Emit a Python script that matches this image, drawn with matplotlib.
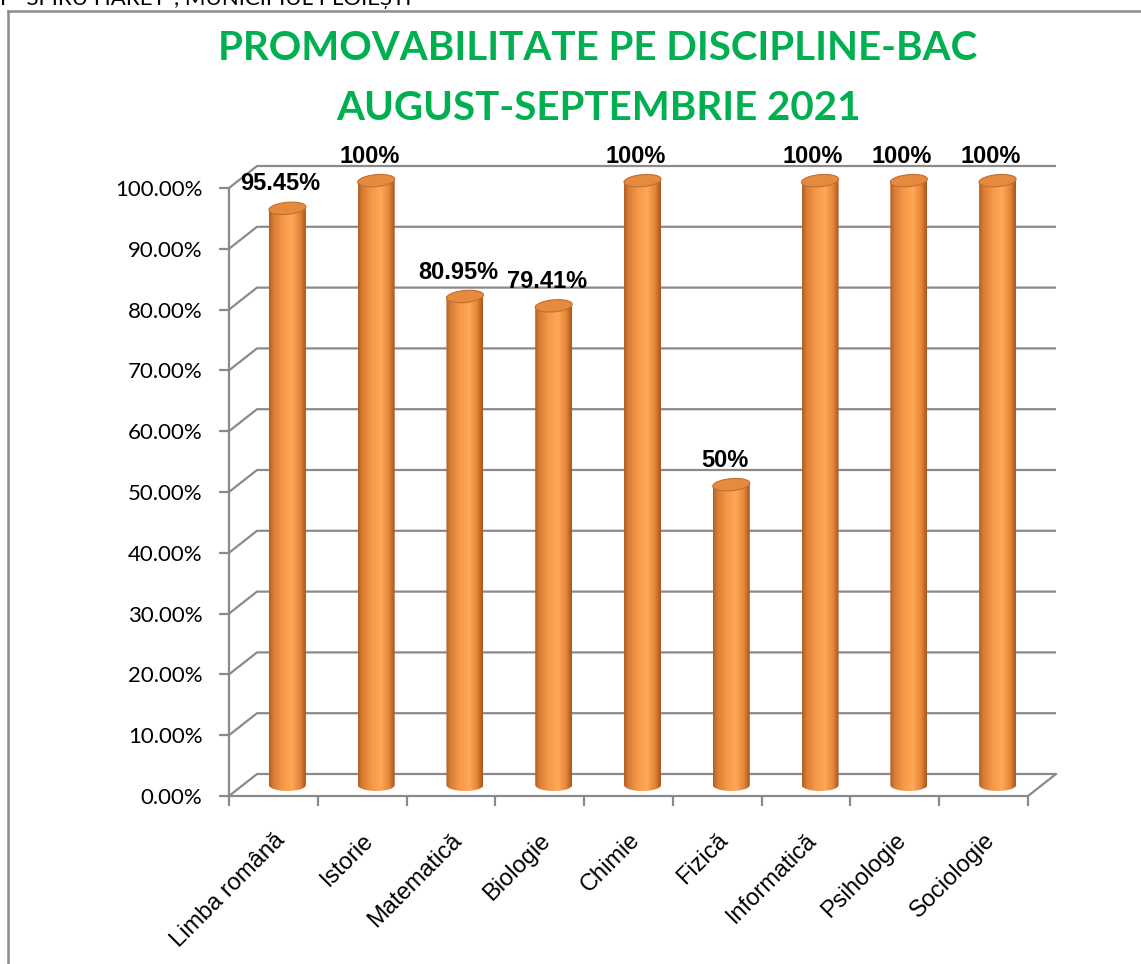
import matplotlib
matplotlib.use("Agg")
import matplotlib.pyplot as plt
import numpy as np
from matplotlib.patches import Polygon


categories = ["Limba română", "Istorie", "Matematică", "Biologie", "Chimie",
              "Fizică", "Informatică", "Psihologie", "Sociologie"]
values = [95.45, 100, 80.95, 79.41, 100, 50, 100, 100, 100]
value_labels = ["95.45%", "100%", "80.95%", "79.41%", "100%", "50%",
                "100%", "100%", "100%"]
yticks = [0, 10, 20, 30, 40, 50, 60, 70, 80, 90, 100]

W, H = 1141, 964
X0_PX, X1_PX = 229, 1028       # front floor edge
Y0_PX, Y100_PX = 796, 188      # 0% and 100% on the front axis
DX_PX, DY_PX = 28, 22          # depth of the 3D box

cat_px = (X1_PX - X0_PX) / len(categories)
pct_px = (Y0_PX - Y100_PX) / 100.0
dxd = DX_PX / cat_px
dyd = DY_PX / pct_px

GRID = "#8a8a8a"
GREEN = "#00b050"


def px(x, y):
    return x / W, 1 - y / H


def cylinder(ax, xc, base, top, w, eh, z=3):
    a, b = w / 2, eh / 2
    t = np.linspace(np.pi, 2 * np.pi, 40)
    bottom = np.column_stack([xc + a * np.cos(t), base + b * np.sin(t)])
    body = np.vstack([[xc - a, top], bottom, [xc + a, top]])
    clip = Polygon(body, closed=True, facecolor="none", edgecolor="none")
    ax.add_patch(clip)
    stops = [0.0, 0.12, 0.35, 0.62, 0.85, 1.0]
    cols = np.array([[0.70, 0.37, 0.14], [0.84, 0.49, 0.21], [0.96, 0.59, 0.28],
                     [1.00, 0.66, 0.34], [0.89, 0.52, 0.22], [0.66, 0.33, 0.10]])
    s = np.linspace(0, 1, 128)
    grad = np.stack([np.interp(s, stops, cols[:, k]) for k in range(3)], axis=-1)[None, :, :]
    im = ax.imshow(grad, extent=(xc - a, xc + a, base - b, top), aspect="auto",
                   zorder=z, interpolation="bilinear")
    im.set_clip_path(clip)
    tt = np.linspace(0, 2 * np.pi, 80)
    shear = 0.25
    cap = np.column_stack([xc + a * np.cos(tt),
                           top + b * np.sin(tt) + shear * np.cos(tt)])
    ax.add_patch(Polygon(cap, closed=True, facecolor="#e58a3e",
                         edgecolor="#c66d2b", lw=0.8, zorder=z + 0.1))


fig = plt.figure(figsize=(W / 100, H / 100), dpi=100)

# outer frame (only top and left are inside the picture)
fig.add_artist(plt.Line2D([8 / W, 8 / W], [0, 1 - 11 / H], color="#8c8c8c", lw=1.8))
fig.add_artist(plt.Line2D([8 / W, 1], [1 - 11 / H, 1 - 11 / H], color="#8c8c8c", lw=1.8))

# header line of the page, cut off at the top edge
fig.text(0, 1 - 5 / H, 'F "SPIRU HARET", MUNICIPIUL PLOIEȘTI', fontsize=16,
         family="Lato", va="baseline", ha="left")

top_px = 140
ax = fig.add_axes([X0_PX / W, 1 - Y0_PX / H, 830 / W, (Y0_PX - top_px) / H])
ax.set_xlim(-0.5, -0.5 + 830 / cat_px)
ax.set_ylim(0, (Y0_PX - top_px) / pct_px)
ax.patch.set_visible(False)

for sp in ["top", "right"]:
    ax.spines[sp].set_visible(False)
for sp in ["left", "bottom"]:
    ax.spines[sp].set_color(GRID)
    ax.spines[sp].set_linewidth(1.6)
ax.spines["left"].set_bounds(0, 100)
ax.spines["bottom"].set_bounds(-0.5, len(categories) - 0.5)

ax.set_yticks(yticks, ["%.2f%%" % v for v in yticks])
ax.tick_params(axis="y", length=7, width=1.6, color=GRID, pad=12, labelsize=16)
for lbl in ax.get_yticklabels():
    lbl.set_family("Lato")

ax.set_xticks(np.arange(len(categories)), categories, rotation=45, ha="right",
              rotation_mode="anchor", fontsize=17, family="Liberation Sans")
ax.set_xticks(np.arange(-0.5, len(categories)), minor=True)
ax.tick_params(axis="x", which="major", length=0, pad=24)
ax.tick_params(axis="x", which="minor", length=7, width=1.6, color=GRID)

# back wall gridlines with side-wall diagonals
xl, xr = -0.5, len(categories) - 0.5
for v in yticks:
    ax.plot([xl, xl + dxd, xr + dxd], [v, v + dyd, v + dyd], color=GRID,
            lw=1.6, zorder=1, clip_on=False, solid_capstyle="butt")
ax.plot([xr, xr + dxd], [0, dyd], color=GRID, lw=1.6, zorder=1, clip_on=False)

bar_w = 37 / cat_px
ell_h = 12 / pct_px
for i, (v, lab) in enumerate(zip(values, value_labels)):
    xc = i + dxd / 2
    cylinder(ax, xc, dyd / 2, v + dyd / 2 - 0.6, bar_w, ell_h)
    ax.text(i + 0.08, v + dyd / 2 + 3.4, lab, ha="center", va="center",
            fontsize=17, fontweight="bold", family="Liberation Sans", zorder=6)

fig.text(*px(598, 60), "PROMOVABILITATE PE DISCIPLINE-BAC", color=GREEN,
         fontsize=29, fontweight="bold", family="Lato", ha="center", va="baseline")
fig.text(*px(598, 120), "AUGUST-SEPTEMBRIE 2021", color=GREEN,
         fontsize=29, fontweight="bold", family="Lato", ha="center", va="baseline")

fig.savefig("out.png", dpi=100)
